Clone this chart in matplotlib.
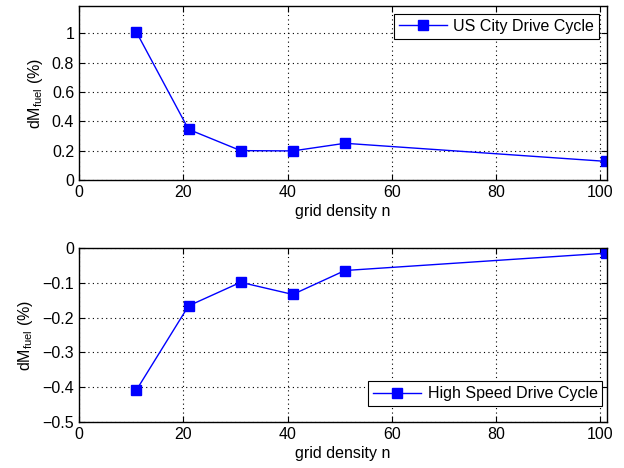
import matplotlib
matplotlib.use("Agg")
import matplotlib.pyplot as plt

plt.rcParams['font.family'] = ['Liberation Sans', 'DejaVu Sans']
plt.rcParams['mathtext.fontset'] = 'custom'
plt.rcParams['mathtext.rm'] = 'Liberation Sans'
plt.rcParams['mathtext.it'] = 'Liberation Sans:italic'
plt.rcParams['font.size'] = 11.5

grid_n = [11, 21, 31, 41, 51, 101]
us_city = [1.008, 0.345, 0.200, 0.198, 0.250, 0.127]
high_speed = [-0.409, -0.166, -0.098, -0.133, -0.064, -0.014]

x_ticks = [0, 20, 40, 60, 80, 100]
top_yticks = [0, 0.2, 0.4, 0.6, 0.8, 1.0]
top_ylabels = ['0', '0.2', '0.4', '0.6', '0.8', '1']
bot_yticks = [-0.5, -0.4, -0.3, -0.2, -0.1, 0]
bot_ylabels = ['\u22120.5', '\u22120.4', '\u22120.3', '\u22120.2', '\u22120.1', '0']

fig = plt.figure(figsize=(6.24, 4.68), dpi=100)
ax1 = fig.add_axes([0.1266, 0.6154, 0.8457, 0.3718])
ax2 = fig.add_axes([0.1266, 0.0989, 0.8457, 0.3705])

series = {'US City Drive Cycle': us_city, 'High Speed Drive Cycle': high_speed}

def style(ax, yt, yl, ylim, label, loc, anchor):
    ax.plot(grid_n, series[label], color='#0000ff', lw=1, marker='s',
            markersize=7.5, markerfacecolor='#0000ff', markeredgecolor='#0000ff',
            label=label)
    ax.set_xlim(0, 101.2)
    ax.set_ylim(*ylim)
    ax.set_xticks(x_ticks)
    ax.set_yticks(yt)
    ax.set_yticklabels(yl)
    ax.grid(True, linestyle=(0, (1, 3)), color='black', lw=0.8)
    ax.tick_params(direction='in', top=True, right=True, length=4, width=0.8)
    for s in ax.spines.values():
        s.set_linewidth(1.0)
    ax.set_xlabel('grid density n', labelpad=3)
    ax.set_ylabel(r'dM$_{\mathrm{fuel}}$ (%)', labelpad=5)
    leg = ax.legend(loc=loc, bbox_to_anchor=anchor, fancybox=False,
                    edgecolor='black', framealpha=1, borderaxespad=0,
                    borderpad=0.3, handlelength=3.0, handletextpad=0.4)
    leg.get_frame().set_linewidth(0.8)

style(ax1, top_yticks, top_ylabels, (0, 1.185), 'US City Drive Cycle',
      'upper right', (0.9854, 0.954))
style(ax2, bot_yticks, bot_ylabels, (-0.5, 0), 'High Speed Drive Cycle',
      'lower right', (0.9917, 0.0905))

fig.savefig('out.png', dpi=100)
